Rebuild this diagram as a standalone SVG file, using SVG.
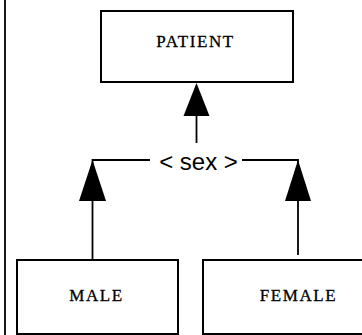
<svg xmlns="http://www.w3.org/2000/svg" width="362" height="335" viewBox="0 0 362 335">
<style>
.box{fill:#fff;stroke:#000;stroke-width:2}
.lbl{font-family:"Liberation Serif",serif;font-size:17px;letter-spacing:1.6px;fill:#000;stroke:#000;stroke-width:0.3;text-anchor:middle}
.ln{stroke:#000;stroke-width:1.8;fill:none}
.ah{fill:#000;stroke:none}
.sx{font-family:"Liberation Sans",Arial,sans-serif;font-size:24px;fill:#000;text-anchor:middle}
</style>
<rect width="362" height="335" fill="#fff"/>
<line x1="5" y1="0" x2="5" y2="335" class="ln"/>
<g id="connectors">
<line x1="196.5" y1="116" x2="196.5" y2="143" class="ln"/>
<polygon class="ah" points="196.5,83 183.5,116 209.5,116"/>
<polyline class="ln" points="150,160 92.5,160 92.5,259"/>
<polygon class="ah" points="92.5,160 79,201 106,201"/>
<polyline class="ln" points="242,160 298,160 298,255"/>
<polygon class="ah" points="298,160 285,201 311,201"/>
<text class="sx" x="198.5" y="170">&lt; sex &gt;</text>
</g>
<g id="patient">
<rect class="box" x="101" y="11" width="192" height="71"/>
<text class="lbl" x="195.5" y="46.5">PATIENT</text>
</g>
<g id="male">
<rect class="box" x="17" y="260" width="161" height="74"/>
<text class="lbl" x="96.5" y="301">MALE</text>
</g>
<g id="female">
<rect class="box" x="203" y="260" width="170" height="74"/>
<text class="lbl" x="298.5" y="301">FEMALE</text>
</g>
</svg>
